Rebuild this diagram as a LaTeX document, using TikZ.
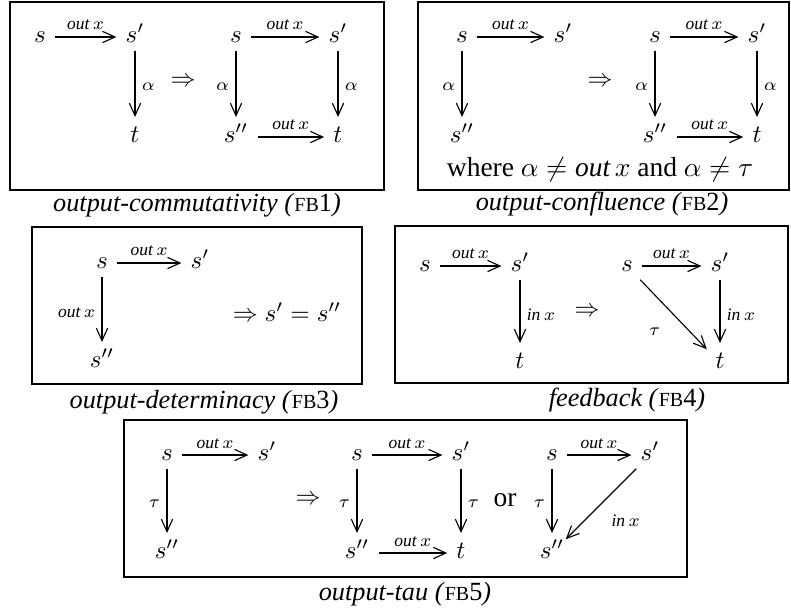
\documentclass[tikz,border=0pt]{standalone}
\usepackage[no-math]{fontspec}
\setmainfont{Liberation Serif}
\usetikzlibrary{arrows.meta}
\newcommand{\outx}{\textit{out}\,x}
\newcommand{\inx}{\textit{in}\,x}
\newcommand{\rulename}[2]{\textit{#1 (}{\fontsize{8}{9}\selectfont FB}#2\textit{)}}
\tikzset{
  st/.style={inner xsep=3.5pt, inner ysep=3pt, text height=1ex, text depth=0pt},
  arr/.style={-{Straight Barb[length=5pt,width=4.5pt]}, line width=.45pt},
  vend/.style={shorten >=2.5pt},
  lbl/.style={font=\scriptsize, inner sep=2.5pt},
  rulebox/.style={draw, line width=.5pt},
  rulecap/.style={font=\fontsize{10.5}{12}\selectfont},
}
\begin{document}
\begin{tikzpicture}[x=0.4pt, y=-0.4pt]
\useasboundingbox (0,0) rectangle (791,609);
% FB1
\draw[rulebox] (10,2) rectangle (384,190);
\node[st] (a1s) at (40,37) {$s$};
\node[st] (a1sp) at (135,37) {$s'$};
\node[st] (a1t) at (135,137) {$t$};
\node (a1imp) at (183,82) {$\Rightarrow$};
\node[st] (b1s) at (236,37) {$s$};
\node[st] (b1sp) at (338,37) {$s'$};
\node[st] (b1spp) at (236,137) {$s''$};
\node[st] (b1t) at (338,137) {$t$};
\draw[arr] (a1s) -- node[lbl,above] {$\outx$} (a1sp);
\draw[arr,vend] (a1sp) -- node[lbl,right] {$\alpha$} (a1t);
\draw[arr] (b1s) -- node[lbl,above] {$\outx$} (b1sp);
\draw[arr,vend] (b1s) -- node[lbl,left] {$\alpha$} (b1spp);
\draw[arr,vend] (b1sp) -- node[lbl,right] {$\alpha$} (b1t);
\draw[arr] (b1spp) -- node[lbl,above] {$\outx$} (b1t);
\node[rulecap] (c1) at (197,205) {\rulename{output-commutativity}{1}};
% FB2
\draw[rulebox] (418,2) rectangle (789,190);
\node[st] (a2s) at (462,37) {$s$};
\node[st] (a2sp) at (563,37) {$s'$};
\node[st] (a2spp) at (462,137) {$s''$};
\node (a2imp) at (600,82) {$\Rightarrow$};
\node[st] (b2s) at (655,37) {$s$};
\node[st] (b2sp) at (757,37) {$s'$};
\node[st] (b2spp) at (655,137) {$s''$};
\node[st] (b2t) at (757,137) {$t$};
\draw[arr] (a2s) -- node[lbl,above] {$\outx$} (a2sp);
\draw[arr,vend] (a2s) -- node[lbl,left] {$\alpha$} (a2spp);
\draw[arr] (b2s) -- node[lbl,above] {$\outx$} (b2sp);
\draw[arr,vend] (b2s) -- node[lbl,left] {$\alpha$} (b2spp);
\draw[arr,vend] (b2sp) -- node[lbl,right] {$\alpha$} (b2t);
\draw[arr] (b2spp) -- node[lbl,above] {$\outx$} (b2t);
\node[font=\fontsize{11}{13}\selectfont] (w2) at (600,170) {where $\alpha \neq \outx$ and $\alpha \neq \tau$};
\node[rulecap] (c2) at (602,204) {\rulename{output-confluence}{2}};
% FB3
\draw[rulebox] (32,227) rectangle (362,384);
\node[st] (a3s) at (102,263) {$s$};
\node[st] (a3sp) at (200,263) {$s'$};
\node[st] (a3spp) at (102,362) {$s''$};
\node (a3eq) at (287,312) {$\Rightarrow s' = s''$};
\draw[arr] (a3s) -- node[lbl,above] {$\outx$} (a3sp);
\draw[arr,vend] (a3s) -- node[lbl,left] {$\outx$} (a3spp);
\node[rulecap] (c3) at (204,402) {\rulename{output-determinacy}{3}};
% FB4
\draw[rulebox] (395,226) rectangle (788,383);
\node[st] (a4s) at (425,266) {$s$};
\node[st] (a4sp) at (520,266) {$s'$};
\node[st] (a4t) at (520,363) {$t$};
\node (a4imp) at (587,312) {$\Rightarrow$};
\node[st] (b4s) at (627,266) {$s$};
\node[st] (b4sp) at (720,266) {$s'$};
\node[st] (b4t) at (720,363) {$t$};
\draw[arr] (a4s) -- node[lbl,above] {$\outx$} (a4sp);
\draw[arr,vend] (a4sp) -- node[lbl,right] {$\inx$} (a4t);
\draw[arr] (b4s) -- node[lbl,above] {$\outx$} (b4sp);
\draw[arr,vend] (b4sp) -- node[lbl,right] {$\inx$} (b4t);
\draw[arr] (b4s) -- node[lbl,pos=.5,below left,inner sep=5pt] {$\tau$} (b4t);
\node[rulecap] (c4) at (627,400) {\rulename{feedback}{4}};
% FB5
\draw[rulebox] (124,420) rectangle (687,577);
\node[st] (a5s) at (167,455) {$s$};
\node[st] (a5sp) at (267,455) {$s'$};
\node[st] (a5spp) at (167,553) {$s''$};
\node (a5imp) at (308,500) {$\Rightarrow$};
\node[st] (b5s) at (357,455) {$s$};
\node[st] (b5sp) at (461,455) {$s'$};
\node[st] (b5spp) at (357,553) {$s''$};
\node[st] (b5t) at (461,553) {$t$};
\node[font=\fontsize{11}{13}\selectfont] (or5) at (505,500) {or};
\node[st] (c5s) at (552,455) {$s$};
\node[st] (c5sp) at (650,455) {$s'$};
\node[st] (c5spp) at (552,553) {$s''$};
\draw[arr] (a5s) -- node[lbl,above] {$\outx$} (a5sp);
\draw[arr,vend] (a5s) -- node[lbl,left] {$\tau$} (a5spp);
\draw[arr] (b5s) -- node[lbl,above] {$\outx$} (b5sp);
\draw[arr,vend] (b5s) -- node[lbl,left] {$\tau$} (b5spp);
\draw[arr,vend] (b5sp) -- node[lbl,right] {$\tau$} (b5t);
\draw[arr] (b5spp) -- node[lbl,above] {$\outx$} (b5t);
\draw[arr] (c5s) -- node[lbl,above] {$\outx$} (c5sp);
\draw[arr,vend] (c5s) -- node[lbl,left] {$\tau$} (c5spp);
\draw[arr] (c5sp) -- node[lbl,pos=.5,below right,inner sep=4pt] {$\inx$} (c5spp);
\node[rulecap] (c5) at (405,594) {\rulename{output-tau}{5}};
\end{tikzpicture}
\end{document}
